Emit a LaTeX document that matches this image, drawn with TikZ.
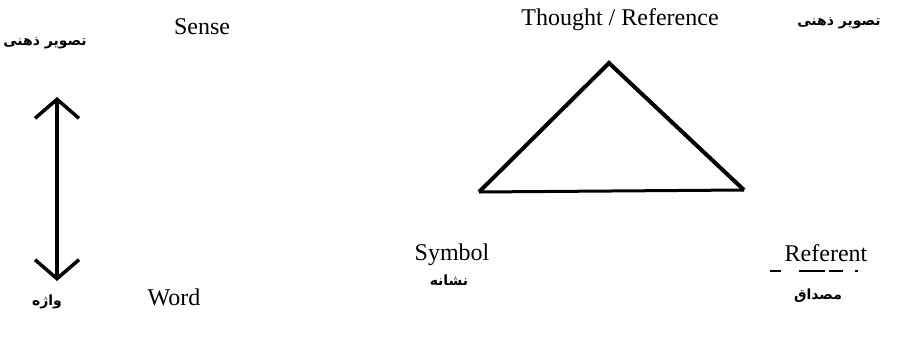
\documentclass[tikz,border=0pt]{standalone}
\usepackage{fontspec}
\setmainfont{Liberation Serif}
\newfontfamily\arabicfont[Script=Arabic]{DejaVu Sans}
\TeXXeTstate=1
\usetikzlibrary{arrows.meta}
\tikzset{
  lbl/.style={font=\fontsize{24}{28}\selectfont, inner sep=0pt, anchor=base},
  fa/.style={font=\arabicfont\bfseries\fontsize{14}{17}\selectfont, inner sep=0pt},
  thickline/.style={line width=4pt, line join=miter},
  dblarrow/.style={line width=3.5pt, {Straight Barb[length=19pt,width=44pt,line width=3.5pt]}-{Straight Barb[length=19pt,width=44pt,line width=3.5pt]}}
}
\begin{document}
\begin{tikzpicture}[x=1pt,y=-1pt]
\useasboundingbox (0,0) rectangle (899,337);
% left part
\node[fa] (faL) at (45,43) {\beginR تصویر ذهنی\endR};
\node[lbl] (sense) at (202,35) {Sense};
\coordinate (atop) at (57,97);
\coordinate (abot) at (57,281);
\draw[dblarrow] (atop) -- (abot);
\node[fa] (vazhe) at (47,302) {\beginR واژه\endR};
\node[lbl] (word) at (174,305) {Word};
% right part
\node[lbl] (thought) at (620,26) {Thought / Reference};
\node[fa] (faR) at (839,23) {\beginR تصویر ذهنی\endR};
\coordinate (apex) at (609,63);
\coordinate (bl) at (479,192);
\coordinate (br) at (744,190);
\draw[thickline] (bl) -- (apex) -- (br);
\draw[line width=3pt] (bl) -- (br);
\node[lbl] (symbol) at (452,260) {Symbol};
\node[fa] (neshane) at (449,280) {\beginR نشانه\endR};
\node[lbl] (referent) at (826,261) {Referent};
\coordinate (d1) at (770,271);
\coordinate (d2) at (858,271);
\draw[line width=1.2pt, dash pattern=on 11pt off 18pt on 26pt off 4pt on 14pt off 12pt on 8pt] (d1) -- (d2);
\node[fa] (mesdagh) at (818,296) {\beginR مصداق\endR};
\end{tikzpicture}
\end{document}
